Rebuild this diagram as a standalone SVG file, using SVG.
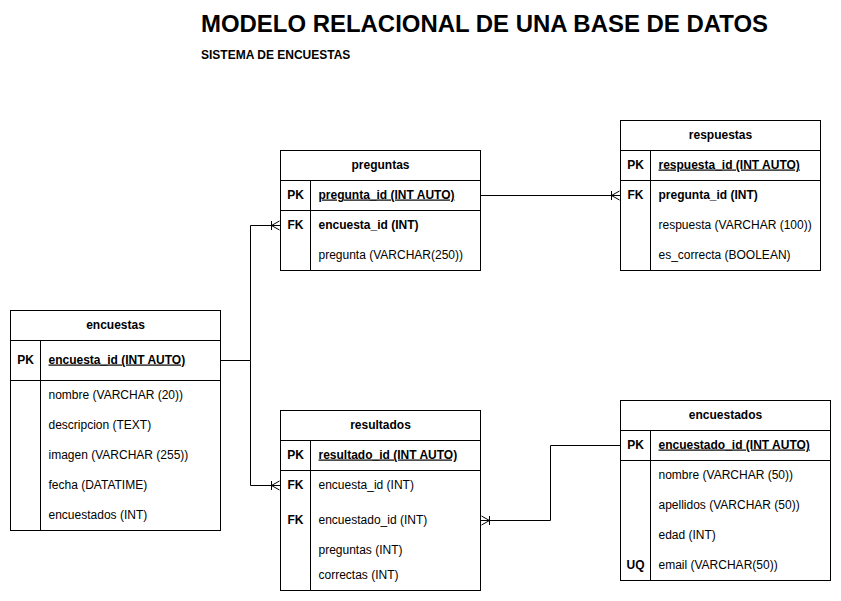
<svg xmlns="http://www.w3.org/2000/svg" width="841" height="601" viewBox="0 0 841 601">
<defs>
<style>
.box{fill:#fff;stroke:#000;stroke-width:1}
.ln{stroke:#000;stroke-width:1;fill:none}
text{font-family:"Liberation Sans",Arial,sans-serif;font-size:12px;fill:#000}
.h{font-weight:bold;text-anchor:middle}
.k{font-weight:bold;text-anchor:middle}
.b{font-weight:bold}
.u{font-weight:bold;text-decoration:underline}
.title{font-size:24px;font-weight:bold}
.sub{font-size:12px;font-weight:bold}
</style>
<marker id="many" markerUnits="userSpaceOnUse" markerWidth="20" markerHeight="20" viewBox="-12 -10 14 20" refX="0" refY="0" orient="auto" overflow="visible">
<path d="M-9,-4.5 L-9,4.5 M-1,-4.5 L-9,0 L-1,4.5" fill="none" stroke="#000" stroke-width="1"/>
</marker>
</defs>
<rect width="841" height="601" fill="#fff"/>
<text class="title" x="201" y="32" textLength="567" lengthAdjust="spacingAndGlyphs">MODELO RELACIONAL DE UNA BASE DE DATOS</text>
<text class="sub" x="201" y="59">SISTEMA DE ENCUESTAS</text>
<g transform="translate(0.5,0.5)">
<g id="connectors">
<path class="ln" d="M220,360 L250,360 L250,225 L280,225" marker-end="url(#many)"/>
<path class="ln" d="M250,360 L250,485 L280,485" marker-end="url(#many)"/>
<path class="ln" d="M480,195 L620,195" marker-end="url(#many)"/>
<path class="ln" d="M620,445 L550,445 L550,520 L480,520" marker-end="url(#many)"/>
</g>
<g id="encuestas">
<rect class="box" x="10" y="310" width="210" height="220"/>
<path class="ln" d="M10,340 H220 M10,380 H220 M40,340 V530"/>
<text class="h" x="115" y="328">encuestas</text>
<text class="k" x="25" y="363">PK</text>
<text class="u" x="48" y="363">encuesta_id (INT AUTO)</text>
<text x="48" y="398">nombre (VARCHAR (20))</text>
<text x="48" y="428">descripcion (TEXT)</text>
<text x="48" y="458">imagen (VARCHAR (255))</text>
<text x="48" y="488">fecha (DATATIME)</text>
<text x="48" y="518">encuestados (INT)</text>
</g>
<g id="preguntas">
<rect class="box" x="280" y="150" width="200" height="120"/>
<path class="ln" d="M280,180 H480 M280,210 H480 M310,180 V270"/>
<text class="h" x="380" y="168">preguntas</text>
<text class="k" x="295" y="198">PK</text>
<text class="u" x="318" y="198">pregunta_id (INT AUTO)</text>
<text class="k" x="295" y="228">FK</text>
<text class="b" x="318" y="228">encuesta_id (INT)</text>
<text x="318" y="258">pregunta (VARCHAR(250))</text>
</g>
<g id="respuestas">
<rect class="box" x="620" y="120" width="200" height="150"/>
<path class="ln" d="M620,150 H820 M620,180 H820 M650,150 V270"/>
<text class="h" x="720" y="138">respuestas</text>
<text class="k" x="635" y="168">PK</text>
<text class="u" x="658" y="168">respuesta_id (INT AUTO)</text>
<text class="k" x="635" y="198">FK</text>
<text class="b" x="658" y="198">pregunta_id (INT)</text>
<text x="658" y="228">respuesta (VARCHAR (100))</text>
<text x="658" y="258">es_correcta (BOOLEAN)</text>
</g>
<g id="resultados">
<rect class="box" x="280" y="410" width="200" height="180"/>
<path class="ln" d="M280,440 H480 M280,470 H480 M310,440 V590"/>
<text class="h" x="380" y="428">resultados</text>
<text class="k" x="295" y="458">PK</text>
<text class="u" x="318" y="458">resultado_id (INT AUTO)</text>
<text class="k" x="295" y="488">FK</text>
<text x="318" y="488">encuesta_id (INT)</text>
<text class="k" x="295" y="523">FK</text>
<text x="318" y="523">encuestado_id (INT)</text>
<text x="318" y="553">preguntas (INT)</text>
<text x="318" y="578">correctas (INT)</text>
</g>
<g id="encuestados">
<rect class="box" x="620" y="400" width="210" height="180"/>
<path class="ln" d="M620,430 H830 M620,460 H830 M650,430 V580"/>
<text class="h" x="725" y="418">encuestados</text>
<text class="k" x="635" y="448">PK</text>
<text class="u" x="658" y="448">encuestado_id (INT AUTO)</text>
<text x="658" y="478">nombre (VARCHAR (50))</text>
<text x="658" y="508">apellidos (VARCHAR (50))</text>
<text x="658" y="538">edad (INT)</text>
<text class="k" x="635" y="568">UQ</text>
<text x="658" y="568">email (VARCHAR(50))</text>
</g>
</g>
</svg>
